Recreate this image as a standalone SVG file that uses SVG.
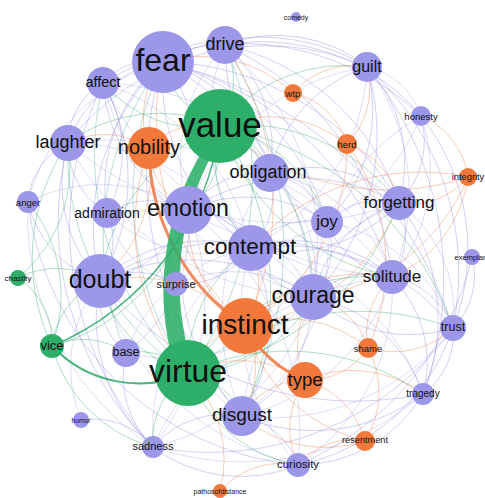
<svg xmlns="http://www.w3.org/2000/svg" width="485" height="498" viewBox="0 0 485 498">
<style>
#edges path{fill:none;stroke-width:0.9;stroke-opacity:0.42}
#edges .p{stroke:#8a84de}
#edges .q{stroke:#8a84de;stroke-opacity:0.3}
#edges .g{stroke:#2aa866}
#edges .t{stroke:#4fa3a0}
#edges .o{stroke:#ee7842}
#edges .thick{stroke-opacity:0.85}
#edges .band{fill:#2daf69;fill-opacity:0.88;stroke:none}
.np{fill:#9c97e8}
.ng{fill:#2daf69}
.no{fill:#f2793b}
text{font-family:"Liberation Sans",Arial,Helvetica,sans-serif;fill:#111;text-anchor:middle;dominant-baseline:central}
</style>
<rect width="485" height="498" fill="#fff"/>
<g id="edges">
<path class="p" d="M163 62A64 64 0 0 1 225 45"/>
<path class="p" d="M103 83A63 63 0 0 1 163 62"/>
<path class="p" d="M68 143A125 125 0 0 1 163 62"/>
<path class="p" d="M163 62A204 204 0 0 1 367 67"/>
<path class="p" d="M225 45A144 144 0 0 1 367 67"/>
<path class="p" d="M225 45A208 208 0 0 1 421 116"/>
<path class="p" d="M367 67A140 140 0 0 1 399 203"/>
<path class="p" d="M367 67A275 275 0 0 1 453 328"/>
<path class="p" d="M421 116A214 214 0 0 1 453 328"/>
<path class="p" d="M421 116A90 90 0 0 1 399 203"/>
<path class="p" d="M399 203A75 75 0 0 1 392 277"/>
<path class="p" d="M392 277A80 80 0 0 1 453 328"/>
<path class="p" d="M472 257A74 74 0 0 1 453 328"/>
<path class="p" d="M453 328A73 73 0 0 1 423 394"/>
<path class="p" d="M392 277A121 121 0 0 1 423 394"/>
<path class="p" d="M399 203A192 192 0 0 1 423 394"/>
<path class="p" d="M453 328A207 207 0 0 1 298 465"/>
<path class="p" d="M423 394A144 144 0 0 1 298 465"/>
<path class="p" d="M298 465A146 146 0 0 1 153 447"/>
<path class="p" d="M153 447A174 174 0 0 1 100 281"/>
<path class="p" d="M153 447A316 316 0 0 1 68 143"/>
<path class="p" d="M100 281A142 142 0 0 1 68 143"/>
<path class="p" d="M68 143A70 70 0 0 1 103 83"/>
<path class="p" d="M28 202A71 71 0 0 1 68 143"/>
<path class="p" d="M100 281A107 107 0 0 1 28 202"/>
<path class="p" d="M107 213A80 80 0 0 1 68 143"/>
<path class="p" d="M107 213A68 68 0 0 1 100 281"/>
<path class="p" d="M107 213A81 81 0 0 1 188 210"/>
<path class="p" d="M188 210A153 153 0 0 1 103 83"/>
<path class="p" d="M188 210A152 152 0 0 1 313 297"/>
<path class="p" d="M188 210A140 140 0 0 1 327 222"/>
<path class="p" d="M188 210A74 74 0 0 1 251 248"/>
<path class="p" d="M188 210A90 90 0 0 1 270 173"/>
<path class="p" d="M176 284A75 75 0 0 1 188 210"/>
<path class="p" d="M242 416A213 213 0 0 1 188 210"/>
<path class="p" d="M188 210A211 211 0 0 1 399 203"/>
<path class="p" d="M251 248A80 80 0 0 1 327 222"/>
<path class="p" d="M313 297A79 79 0 0 1 251 248"/>
<path class="p" d="M251 248A168 168 0 0 1 242 416"/>
<path class="p" d="M270 173A77 77 0 0 1 251 248"/>
<path class="p" d="M251 248A144 144 0 0 1 392 277"/>
<path class="p" d="M399 203A155 155 0 0 1 251 248"/>
<path class="p" d="M251 248A217 217 0 0 1 453 328"/>
<path class="p" d="M313 297A81 81 0 0 1 392 277"/>
<path class="p" d="M313 297A127 127 0 0 1 399 203"/>
<path class="p" d="M327 222A76 76 0 0 1 313 297"/>
<path class="p" d="M453 328A143 143 0 0 1 313 297"/>
<path class="p" d="M313 297A147 147 0 0 1 423 394"/>
<path class="p" d="M367 67A236 236 0 0 1 313 297"/>
<path class="p" d="M270 173A144 144 0 0 1 367 67"/>
<path class="p" d="M270 173A132 132 0 0 1 399 203"/>
<path class="p" d="M270 173A75 75 0 0 1 327 222"/>
<path class="p" d="M225 45A136 136 0 0 1 270 173"/>
<path class="p" d="M327 222A74 74 0 0 1 399 203"/>
<path class="p" d="M392 277A85 85 0 0 1 327 222"/>
<path class="p" d="M367 67A160 160 0 0 1 327 222"/>
<path class="p" d="M242 416A74 74 0 0 1 298 465"/>
<path class="p" d="M153 447A94 94 0 0 1 242 416"/>
<path class="p" d="M423 394A182 182 0 0 1 242 416"/>
<path class="p" d="M313 297A139 139 0 0 1 242 416"/>
<path class="p" d="M100 281A155 155 0 0 1 251 248"/>
<path class="p" d="M188 210A113 113 0 0 1 100 281"/>
<path class="p" d="M100 281A214 214 0 0 1 313 297"/>
<path class="p" d="M100 281A292 292 0 0 1 392 277"/>
<path class="p" d="M103 83A198 198 0 0 1 100 281"/>
<path class="p" d="M163 62A150 150 0 0 1 188 210"/>
<path class="p" d="M163 62A154 154 0 0 1 270 173"/>
<path class="p" d="M251 248A206 206 0 0 1 163 62"/>
<path class="p" d="M163 62A279 279 0 0 1 313 297"/>
<path class="p" d="M163 62A229 229 0 0 1 327 222"/>
<path class="p" d="M163 62A275 275 0 0 1 399 203"/>
<path class="p" d="M163 62A314 314 0 0 1 392 277"/>
<path class="p" d="M242 416A363 363 0 0 1 163 62"/>
<path class="p" d="M100 281A228 228 0 0 1 163 62"/>
<path class="p" d="M107 213A161 161 0 0 1 163 62"/>
<path class="p" d="M163 62A394 394 0 0 1 453 328"/>
<path class="p" d="M126 353A77 77 0 0 1 100 281"/>
<path class="p" d="M153 447A98 98 0 0 1 126 353"/>
<path class="p" d="M188 210A156 156 0 0 1 126 353"/>
<path class="p" d="M81 420A77 77 0 0 1 153 447"/>
<path class="p" d="M100 281A76 76 0 0 1 176 284"/>
<path class="p" d="M251 248A83 83 0 0 1 176 284"/>
<path class="p" d="M225 45A235 235 0 0 1 399 203"/>
<path class="p" d="M327 222A204 204 0 0 1 225 45"/>
<path class="p" d="M225 45A286 286 0 0 1 392 277"/>
<path class="p" d="M103 83A130 130 0 0 1 107 213"/>
<path class="p" d="M68 143A250 250 0 0 1 367 67"/>
<path class="p" d="M298 465A300 300 0 0 1 28 202"/>
<path class="p" d="M453 328A300 300 0 0 1 153 447"/>
<path class="p" d="M367 67A330 330 0 0 1 423 394"/>
<path class="p" d="M103 83A260 260 0 0 1 421 116"/>
<path class="p" d="M153 447A330 330 0 0 1 103 83"/>
<path class="p" d="M423 394A330 330 0 0 1 100 281"/>
<path class="p" d="M472 257A300 300 0 0 1 298 465"/>
<path class="q" d="M68 143A350 350 0 0 1 392 277"/>
<path class="q" d="M313 297A290 290 0 0 1 68 143"/>
<path class="q" d="M68 143A211 211 0 0 1 251 248"/>
<path class="q" d="M399 203A336 336 0 0 1 68 143"/>
<path class="q" d="M103 83A222 222 0 0 1 251 248"/>
<path class="q" d="M313 297A300 300 0 0 1 103 83"/>
<path class="q" d="M103 83A264 264 0 0 1 327 222"/>
<path class="q" d="M392 277A348 348 0 0 1 103 83"/>
<path class="q" d="M251 248A148 148 0 0 1 107 213"/>
<path class="q" d="M107 213A222 222 0 0 1 313 297"/>
<path class="q" d="M176 284A99 99 0 0 1 107 213"/>
<path class="q" d="M153 447A275 275 0 0 1 28 202"/>
<path class="q" d="M28 202A160 160 0 0 1 188 210"/>
<path class="q" d="M28 202A195 195 0 0 1 163 62"/>
<path class="q" d="M251 248A205 205 0 0 1 225 45"/>
<path class="q" d="M225 45A267 267 0 0 1 313 297"/>
<path class="q" d="M188 210A169 169 0 0 1 225 45"/>
<path class="q" d="M367 67A211 211 0 0 1 392 277"/>
<path class="q" d="M188 210A229 229 0 0 1 367 67"/>
<path class="q" d="M367 67A215 215 0 0 1 251 248"/>
<path class="q" d="M367 67A73 73 0 0 1 421 116"/>
<path class="q" d="M421 116A164 164 0 0 1 392 277"/>
<path class="q" d="M313 297A211 211 0 0 1 421 116"/>
<path class="q" d="M421 116A215 215 0 0 1 251 248"/>
<path class="q" d="M399 203A136 136 0 0 1 453 328"/>
<path class="q" d="M242 416A265 265 0 0 1 399 203"/>
<path class="q" d="M392 277A204 204 0 0 1 242 416"/>
<path class="q" d="M392 277A210 210 0 0 1 298 465"/>
<path class="q" d="M153 447A293 293 0 0 1 392 277"/>
<path class="q" d="M453 328A229 229 0 0 1 242 416"/>
<path class="q" d="M327 222A165 165 0 0 1 453 328"/>
<path class="q" d="M423 394A275 275 0 0 1 153 447"/>
<path class="q" d="M251 248A226 226 0 0 1 423 394"/>
<path class="q" d="M298 465A222 222 0 0 1 251 248"/>
<path class="q" d="M188 210A278 278 0 0 1 298 465"/>
<path class="q" d="M298 465A270 270 0 0 1 100 281"/>
<path class="q" d="M188 210A240 240 0 0 1 153 447"/>
<path class="q" d="M153 447A222 222 0 0 1 251 248"/>
<path class="q" d="M313 297A219 219 0 0 1 153 447"/>
<path class="q" d="M126 353A163 163 0 0 1 251 248"/>
<path class="q" d="M313 297A195 195 0 0 1 126 353"/>
<path class="q" d="M176 284A138 138 0 0 1 313 297"/>
<path class="q" d="M242 416A148 148 0 0 1 176 284"/>
<path class="q" d="M327 222A212 212 0 0 1 242 416"/>
<path class="q" d="M81 420A140 140 0 0 1 100 281"/>
<path class="q" d="M270 173A131 131 0 0 1 313 297"/>
<path class="q" d="M242 416A245 245 0 0 1 270 173"/>
<path class="q" d="M270 173A160 160 0 0 1 392 277"/>
<path class="t" d="M188 373A312 312 0 0 1 163 62"/>
<path class="t" d="M188 373A259 259 0 0 1 68 143"/>
<path class="t" d="M225 45A371 371 0 0 1 242 416"/>
<path class="t" d="M188 373A302 302 0 0 1 103 83"/>
<path class="t" d="M126 353A293 293 0 0 1 163 62"/>
<path class="t" d="M225 45A330 330 0 0 1 188 373"/>
<path class="g" d="M220 126A86 86 0 0 1 163 62"/>
<path class="g" d="M225 45A81 81 0 0 1 220 126"/>
<path class="g" d="M220 126A127 127 0 0 1 103 83"/>
<path class="g" d="M68 143A153 153 0 0 1 220 126"/>
<path class="g" d="M220 126A89 89 0 0 1 188 210"/>
<path class="g" d="M220 126A69 69 0 0 1 270 173"/>
<path class="g" d="M251 248A126 126 0 0 1 220 126"/>
<path class="g" d="M220 126A195 195 0 0 1 313 297"/>
<path class="g" d="M220 126A158 158 0 0 1 367 67"/>
<path class="g" d="M220 126A195 195 0 0 1 399 203"/>
<path class="g" d="M392 277A229 229 0 0 1 220 126"/>
<path class="g" d="M220 126A291 291 0 0 1 242 416"/>
<path class="g" d="M100 281A196 196 0 0 1 220 126"/>
<path class="g" d="M220 126A144 144 0 0 1 327 222"/>
<path class="g" d="M220 126A308 308 0 0 1 453 328"/>
<path class="g" d="M188 373A127 127 0 0 1 100 281"/>
<path class="g" d="M126 353A66 66 0 0 1 188 373"/>
<path class="g" d="M188 373A69 69 0 0 1 242 416"/>
<path class="g" d="M153 447A82 82 0 0 1 188 373"/>
<path class="g" d="M313 297A146 146 0 0 1 188 373"/>
<path class="g" d="M188 373A140 140 0 0 1 251 248"/>
<path class="g" d="M188 373A163 163 0 0 1 188 210"/>
<path class="g" d="M188 373A225 225 0 0 1 392 277"/>
<path class="g" d="M298 465A143 143 0 0 1 188 373"/>
<path class="g" d="M188 373A236 236 0 0 1 423 394"/>
<path class="g" d="M399 203A271 271 0 0 1 188 373"/>
<path class="g" d="M188 373A269 269 0 0 1 453 328"/>
<path class="g" d="M52 346A81 81 0 0 1 100 281"/>
<path class="g" d="M188 210A192 192 0 0 1 52 346"/>
<path class="g" d="M18 278A76 76 0 0 1 52 346"/>
<path class="g" d="M52 346A204 204 0 0 1 68 143"/>
<path class="g" d="M52 346A75 75 0 0 1 126 353"/>
<path class="g" d="M153 447A143 143 0 0 1 52 346"/>
<path class="g" d="M18 278A82 82 0 0 1 100 281"/>
<path class="g" d="M68 143A144 144 0 0 1 18 278"/>
<path class="g" d="M28 202A146 146 0 0 1 52 346"/>
<path class="o" d="M149 148A87 87 0 0 1 163 62"/>
<path class="o" d="M149 148A74 74 0 0 1 220 126"/>
<path class="o" d="M188 210A73 73 0 0 1 149 148"/>
<path class="o" d="M68 143A81 81 0 0 1 149 148"/>
<path class="o" d="M149 148A142 142 0 0 1 100 281"/>
<path class="o" d="M188 373A228 228 0 0 1 149 148"/>
<path class="o" d="M245 326A74 74 0 0 1 313 297"/>
<path class="o" d="M251 248A79 79 0 0 1 245 326"/>
<path class="o" d="M245 326A129 129 0 0 1 188 210"/>
<path class="o" d="M188 373A74 74 0 0 1 245 326"/>
<path class="o" d="M100 281A152 152 0 0 1 245 326"/>
<path class="o" d="M245 326A125 125 0 0 1 368 348"/>
<path class="o" d="M365 441A166 166 0 0 1 245 326"/>
<path class="o" d="M245 326A90 90 0 0 1 242 416"/>
<path class="o" d="M245 326A155 155 0 0 1 392 277"/>
<path class="o" d="M399 203A197 197 0 0 1 245 326"/>
<path class="o" d="M347 144A209 209 0 0 1 245 326"/>
<path class="o" d="M225 45A282 282 0 0 1 245 326"/>
<path class="o" d="M245 326A276 276 0 0 1 163 62"/>
<path class="o" d="M305 380A83 83 0 0 1 313 297"/>
<path class="o" d="M368 348A71 71 0 0 1 305 380"/>
<path class="o" d="M305 380A86 86 0 0 1 365 441"/>
<path class="o" d="M242 416A73 73 0 0 1 305 380"/>
<path class="o" d="M298 465A85 85 0 0 1 305 380"/>
<path class="o" d="M188 373A117 117 0 0 1 305 380"/>
<path class="o" d="M305 380A119 119 0 0 1 423 394"/>
<path class="o" d="M293 93A74 74 0 0 1 347 144"/>
<path class="o" d="M347 144A79 79 0 0 1 399 203"/>
<path class="o" d="M367 67A80 80 0 0 1 347 144"/>
<path class="o" d="M220 126A128 128 0 0 1 347 144"/>
<path class="o" d="M347 144A205 205 0 0 1 368 348"/>
<path class="o" d="M293 93A78 78 0 0 1 367 67"/>
<path class="o" d="M163 62A134 134 0 0 1 293 93"/>
<path class="o" d="M468 177A74 74 0 0 1 399 203"/>
<path class="o" d="M421 116A77 77 0 0 1 468 177"/>
<path class="o" d="M468 177A126 126 0 0 1 392 277"/>
<path class="o" d="M468 177A196 196 0 0 1 313 297"/>
<path class="o" d="M251 248A228 228 0 0 1 468 177"/>
<path class="o" d="M468 177A253 253 0 0 1 220 126"/>
<path class="o" d="M368 348A93 93 0 0 1 365 441"/>
<path class="o" d="M313 297A75 75 0 0 1 368 348"/>
<path class="o" d="M368 348A75 75 0 0 1 392 277"/>
<path class="o" d="M453 328A87 87 0 0 1 368 348"/>
<path class="o" d="M298 465A71 71 0 0 1 365 441"/>
<path class="o" d="M365 441A126 126 0 0 1 242 416"/>
<path class="o" d="M220 491A82 82 0 0 1 298 465"/>
<path class="o" d="M188 373A122 122 0 0 1 220 491"/>
<path class="g thick" d="M220 126A277 277 0 0 1 52 346" style="stroke-width:1.5"/>
<path class="g thick" d="M188 373A120 120 0 0 1 52 346" style="stroke-width:2"/>
<path class="o thick" d="M245 326A216 216 0 0 1 149 148" style="stroke-width:3"/>
<path class="o thick" d="M305 380A120 120 0 0 1 245 326" style="stroke-width:3"/>
<path class="band" d="M170 350A270 270 0 0 1 203 150L213 153A270 270 0 0 0 187 346Z"/>
</g>
<g id="value"><circle class="ng" cx="220" cy="126" r="37"/><text x="220" y="124" font-size="35">value</text></g>
<g id="virtue"><circle class="ng" cx="188" cy="373" r="33"/><text x="188" y="371" font-size="32">virtue</text></g>
<g id="fear"><circle class="np" cx="163" cy="62" r="31"/><text x="163" y="60" font-size="32">fear</text></g>
<g id="instinct"><circle class="no" cx="245" cy="326" r="28"/><text x="245" y="324" font-size="28">instinct</text></g>
<g id="doubt"><circle class="np" cx="100" cy="281" r="27"/><text x="100" y="279" font-size="25">doubt</text></g>
<g id="emotion"><circle class="np" cx="188" cy="210" r="24"/><text x="188" y="208" font-size="23">emotion</text></g>
<g id="contempt"><circle class="np" cx="251" cy="248" r="23"/><text x="250" y="246" font-size="22.5">contempt</text></g>
<g id="courage"><circle class="np" cx="313" cy="297" r="23"/><text x="313" y="295" font-size="23">courage</text></g>
<g id="nobility"><circle class="no" cx="149" cy="148" r="21"/><text x="149" y="147" font-size="20">nobility</text></g>
<g id="disgust"><circle class="np" cx="242" cy="416" r="20"/><text x="242" y="414" font-size="19">disgust</text></g>
<g id="drive"><circle class="np" cx="225" cy="45" r="19"/><text x="225" y="44" font-size="18">drive</text></g>
<g id="obligation"><circle class="np" cx="270" cy="173" r="19"/><text x="268" y="172" font-size="18">obligation</text></g>
<g id="laughter"><circle class="np" cx="68" cy="143" r="18"/><text x="68" y="142" font-size="18">laughter</text></g>
<g id="type"><circle class="no" cx="305" cy="380" r="18"/><text x="305" y="379" font-size="18.5">type</text></g>
<g id="forgetting"><circle class="np" cx="399" cy="203" r="17"/><text x="399" y="202" font-size="17">forgetting</text></g>
<g id="solitude"><circle class="np" cx="392" cy="277" r="17"/><text x="392" y="276" font-size="17">solitude</text></g>
<g id="affect"><circle class="np" cx="103" cy="83" r="16"/><text x="103" y="82" font-size="14.5">affect</text></g>
<g id="joy"><circle class="np" cx="327" cy="222" r="16"/><text x="327" y="221" font-size="17">joy</text></g>
<g id="admiration"><circle class="np" cx="107" cy="213" r="15"/><text x="107" y="213" font-size="14">admiration</text></g>
<g id="guilt"><circle class="np" cx="367" cy="67" r="15"/><text x="367" y="66" font-size="16">guilt</text></g>
<g id="base"><circle class="np" cx="126" cy="353" r="14"/><text x="126" y="352" font-size="12.5">base</text></g>
<g id="trust"><circle class="np" cx="453" cy="328" r="13"/><text x="453" y="327" font-size="12.5">trust</text></g>
<g id="surprise"><circle class="np" cx="176" cy="284" r="12"/><text x="176" y="284" font-size="11">surprise</text></g>
<g id="vice"><circle class="ng" cx="52" cy="346" r="12"/><text x="52" y="345" font-size="13">vice</text></g>
<g id="curiosity"><circle class="np" cx="298" cy="465" r="12"/><text x="298" y="464" font-size="11.5">curiosity</text></g>
<g id="anger"><circle class="np" cx="28" cy="202" r="11"/><text x="28" y="202" font-size="9.5">anger</text></g>
<g id="sadness"><circle class="np" cx="153" cy="447" r="11"/><text x="153" y="446" font-size="11">sadness</text></g>
<g id="tragedy"><circle class="np" cx="423" cy="394" r="11"/><text x="423" y="393" font-size="10">tragedy</text></g>
<g id="herd"><circle class="no" cx="347" cy="144" r="10"/><text x="347" y="144" font-size="9.5">herd</text></g>
<g id="honesty"><circle class="np" cx="421" cy="116" r="10"/><text x="421" y="116" font-size="9.5">honesty</text></g>
<g id="shame"><circle class="no" cx="368" cy="348" r="10"/><text x="368" y="348" font-size="9.5">shame</text></g>
<g id="resentment"><circle class="no" cx="365" cy="441" r="10"/><text x="365" y="440" font-size="9.2">resentment</text></g>
<g id="wtp"><circle class="no" cx="293" cy="93" r="9"/><text x="293" y="93" font-size="9.5">wtp</text></g>
<g id="integrity"><circle class="no" cx="468" cy="177" r="9"/><text x="468" y="177" font-size="9.3">integrity</text></g>
<g id="chastity"><circle class="ng" cx="18" cy="278" r="8"/><text x="18" y="278" font-size="8">chastity</text></g>
<g id="humor"><circle class="np" cx="81" cy="420" r="8"/><text x="81" y="420" font-size="6.7">humor</text></g>
<g id="exemplar"><circle class="np" cx="472" cy="257" r="8"/><text x="470" y="257" font-size="7.5">exemplar</text></g>
<g id="pathosofdistance"><circle class="no" cx="220" cy="491" r="7"/><text x="220" y="491" font-size="7">pathosofdistance</text></g>
<g id="comedy"><circle class="np" cx="296" cy="17" r="5"/><text x="296" y="17" font-size="7">comedy</text></g>
</svg>
